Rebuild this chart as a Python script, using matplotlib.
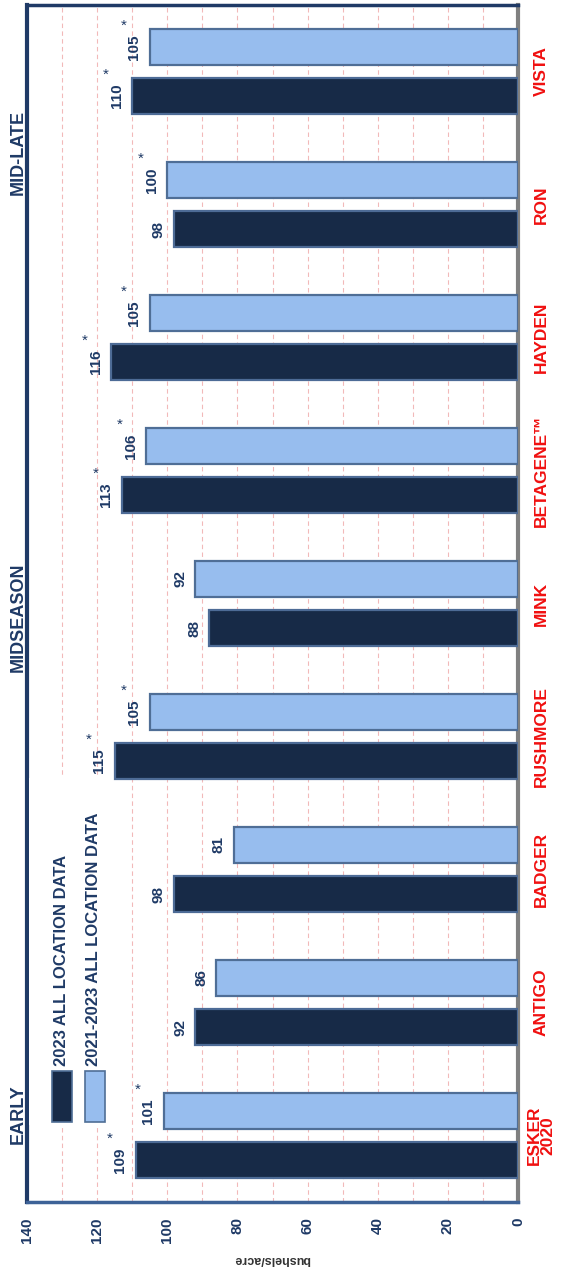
import numpy as np
import matplotlib.pyplot as plt
from matplotlib.patches import Rectangle

# data
varieties = ["ESKER\n2020", "ANTIGO", "BADGER", "RUSHMORE", "MINK",
             "BETAGENE\u2122", "HAYDEN", "RON", "VISTA"]
yield_2023 = [109, 92, 98, 115, 88, 113, 116, 98, 110]
yield_3yr = [101, 86, 81, 105, 92, 106, 105, 100, 105]
star_2023 = [True, False, False, True, False, True, True, False, True]
star_3yr = [True, False, False, True, False, True, True, True, True]
series_names = ["2023 ALL LOCATION DATA", "2021-2023 ALL LOCATION DATA"]
groups = ["EARLY", "MIDSEASON", "MID-LATE"]

NAVY = "#1f3a66"
DARK = "#172a47"
LIGHT = "#97bdee"
RED = "#f01010"
W, H = 565, 1268


def fx(px):
    return px / W


def fy(py):
    return 1 - py / H


plt.rcParams["font.family"] = "Liberation Sans"
fig = plt.figure(figsize=(W / 100, H / 100), dpi=100)
ax = fig.add_axes([fx(27), fy(1202), 491 / W, 1197 / H])

pos = np.arange(len(varieties))
off = 0.185
h = 0.275
ax.barh(pos - off, yield_2023, height=h, color=DARK, edgecolor="#4d6b96",
        linewidth=1.6, zorder=3)
ax.barh(pos + off, yield_3yr, height=h, color=LIGHT, edgecolor="#4f6e96",
        linewidth=1.6, zorder=3)

ax.set_xlim(140, 0)
ax.set_ylim(-0.5, len(varieties) - 0.5)

# gridlines
for g in range(10, 140, 10):
    ax.axvline(g, color="#f2b9b9", lw=0.8, ls=(0, (4, 3)), zorder=1)

ax.set_xticks(range(0, 141, 20))
ax.set_xticklabels([str(v) for v in range(0, 141, 20)], rotation=90,
                   fontsize=11, fontweight="bold", color=NAVY)
ax.tick_params(axis="x", length=0, pad=11)
ax.set_yticks([])

for side, col, lw in [("left", NAVY, 3), ("top", NAVY, 2.5),
                      ("bottom", "#3d6297", 2.5), ("right", "#808080", 3)]:
    ax.spines[side].set_color(col)
    ax.spines[side].set_linewidth(lw)

# value labels with asterisks
for vals, stars, shift in [(yield_2023, star_2023, -off), (yield_3yr, star_3yr, off)]:
    for i, (v, s) in enumerate(zip(vals, stars)):
        ax.annotate(str(v), (v, i + shift), xytext=(-6, 0), textcoords="offset points",
                    rotation=90, ha="right", va="center", fontsize=11,
                    fontweight="bold", color=NAVY, zorder=4)
        if s:
            ax.annotate("*", (v, i + shift), xytext=(-19, 15), textcoords="offset points",
                        ha="center", va="center", fontsize=11, color=NAVY, zorder=4)

# category labels
for i, name in enumerate(varieties):
    ax.text(1.047, i, name, transform=ax.get_yaxis_transform(), rotation=90,
            ha="center", va="center", fontsize=12.5, fontweight="bold",
            color=RED, linespacing=0.95, multialignment="center")

# group labels outside left frame
for name, ypix in zip(groups, [1114, 617, 152]):
    fig.text(fx(18), fy(ypix), name, rotation=90, ha="center", va="center",
             fontsize=13, fontweight="bold", color=NAVY)

# legend drawn by hand (white box hides the grid behind it)
fig.add_artist(Rectangle((fx(29), fy(1125)), (106 - 29) / W, (1125 - 778) / H,
                         transform=fig.transFigure, facecolor="white",
                         edgecolor="none", zorder=2.5))
ax.set_zorder(1)
for name, col, x0 in [(series_names[0], DARK, 52), (series_names[1], LIGHT, 85)]:
    fig.add_artist(Rectangle((fx(x0), fy(1122)), 20 / W, 51 / H,
                             transform=fig.transFigure, facecolor=col,
                             edgecolor="#4f6e96", linewidth=1.2, zorder=3))
    fig.text(fx(x0 + 9), fy(1066), name, rotation=90, ha="center", va="bottom",
             fontsize=12, fontweight="bold", color=NAVY, zorder=3)

fig.text(fx(272), fy(1259), "bushels/acre", rotation=180, ha="center",
         va="center", fontsize=9, fontweight="bold", color="#333333")

fig.savefig("out.png", dpi=100)
